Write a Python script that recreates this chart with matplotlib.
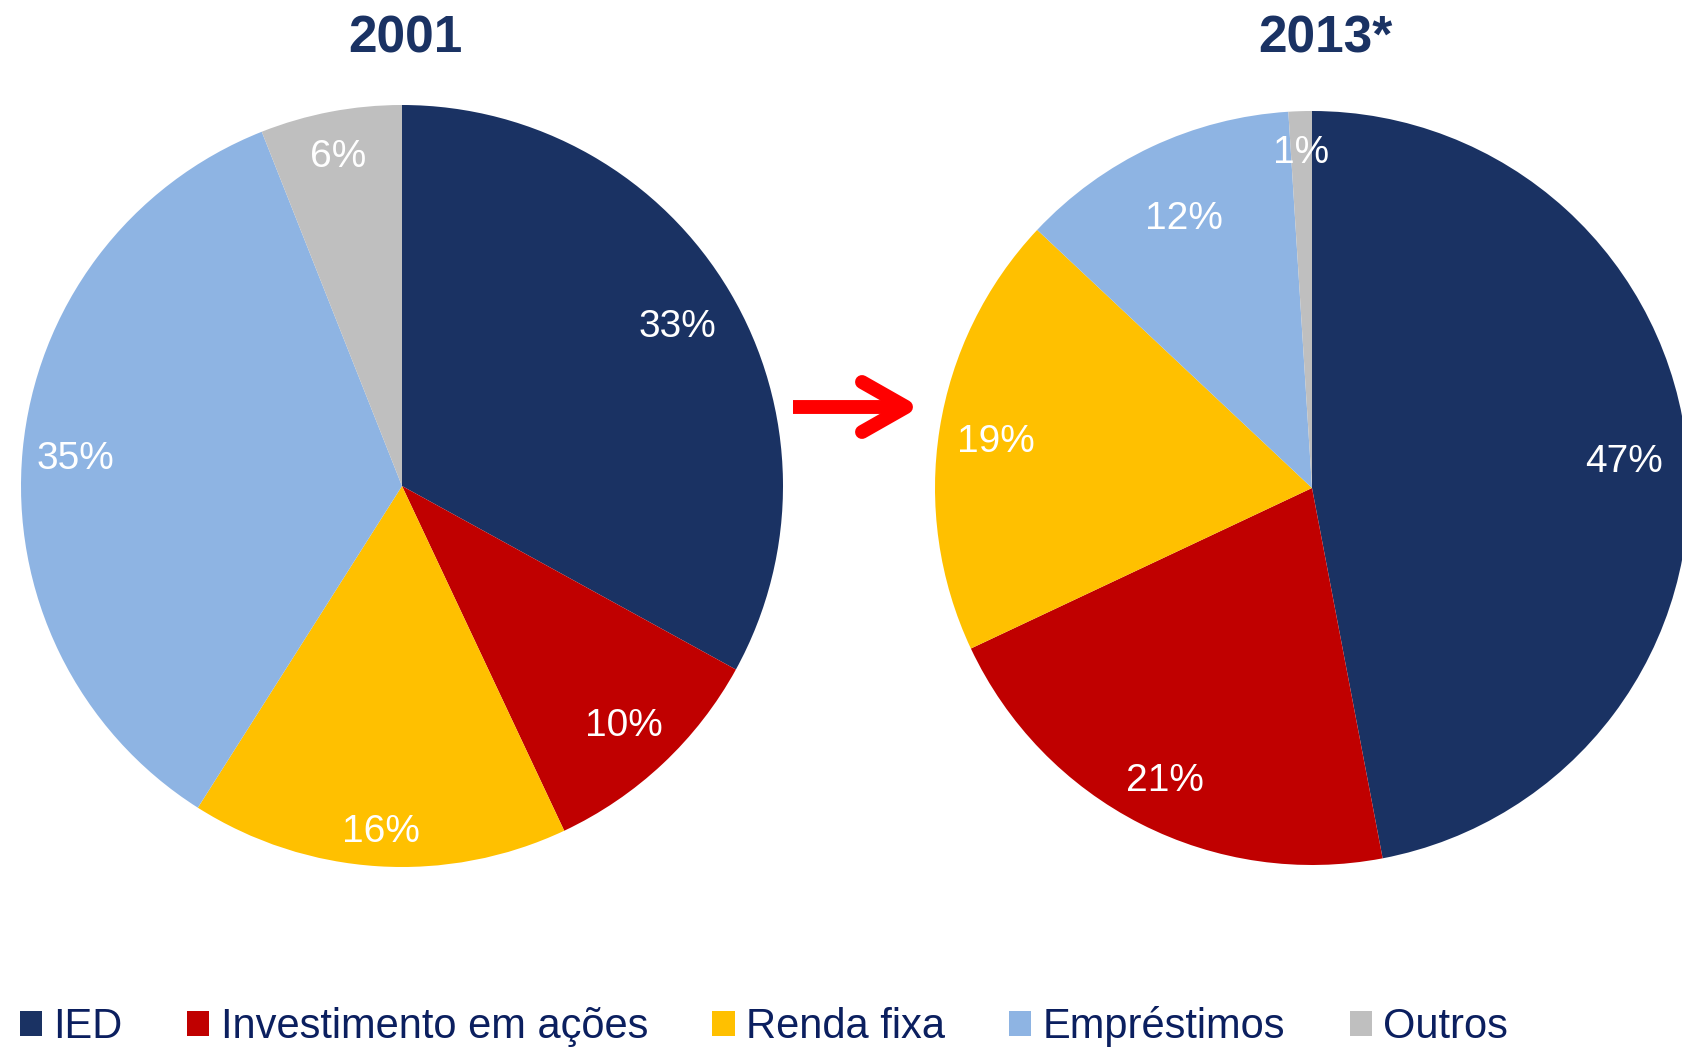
import matplotlib.pyplot as plt
from matplotlib.lines import Line2D

categories = ['IED', 'Investimento em ações', 'Renda fixa', 'Empréstimos', 'Outros']
share_2001 = [33, 10, 16, 35, 6]
share_2013 = [47, 21, 19, 12, 1]
titles = ['2001', '2013*']
colors = ['#1a3263', '#c00000', '#ffc000', '#8eb4e3', '#bfbfbf']

# label distance from centre (fraction of radius), per wedge
lab_dist_2001 = [0.84, 0.85, 0.9, 0.86, 0.89]
lab_dist_2013 = [0.83, 0.86, 0.85, 0.80, 0.90]

W, H = 1682, 1047
fig = plt.figure(figsize=(W / 100, H / 100), dpi=100)


def pie_axes(cx, cy, r):
    # pixel centre/radius -> figure fraction axes
    return fig.add_axes([(cx - r) / W, (H - cy - r) / H, 2 * r / W, 2 * r / H])


def draw_pie(ax, values, dists, title, title_x):
    wedges, _, autotexts = ax.pie(
        values, colors=colors, startangle=90, counterclock=False,
        autopct='%1.0f%%', pctdistance=1.0, radius=1,
        textprops=dict(color='white', fontsize=28, family='Liberation Sans'))
    for t, d in zip(autotexts, dists):
        x, y = t.get_position()
        t.set_position((x * d, y * d - 0.01))
    ax.set_xlim(-1, 1)
    ax.set_ylim(-1, 1)
    ax.set_aspect('equal')
    fig.text(title_x / W, 1 - 39 / H, title, ha='center', va='center',
             fontsize=37, fontweight='bold', color='#1a3263', family='Liberation Sans')
    return wedges


ax1 = pie_axes(402, 486, 381)
wedges = draw_pie(ax1, share_2001, lab_dist_2001, titles[0], 405)
ax2 = pie_axes(1312, 488, 377)
draw_pie(ax2, share_2013, lab_dist_2013, titles[1], 1325)


# red arrow between the pies (shaft + open head with round caps)
def fig_line(xs, ys, cap):
    fig.add_artist(Line2D([x / W for x in xs], [1 - y / H for y in ys],
                          transform=fig.transFigure, color='#ff0000', lw=10,
                          solid_capstyle=cap, solid_joinstyle='round'))


fig_line([793, 900], [407, 407], 'butt')
fig_line([862, 906, 862], [382, 407, 432], 'round')

leg = fig.legend(wedges, categories, loc='lower left', bbox_to_anchor=(0.002, -0.016),
                 ncol=5, frameon=False, handlelength=0.53, handleheight=0.53,
                 handletextpad=0.27, columnspacing=1.55, borderaxespad=0,
                 prop=dict(family='Liberation Sans', size=30))
for txt in leg.get_texts():
    txt.set_color('#0b1f5f')

fig.savefig('out.png', dpi=100)
